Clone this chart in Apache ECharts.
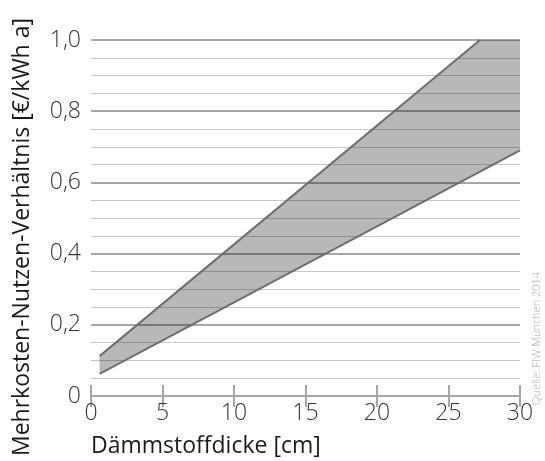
<!DOCTYPE html>
<html><head><meta charset="utf-8">
<script src="https://cdn.jsdelivr.net/npm/echarts@6/dist/echarts.min.js"></script>
<style>html,body{margin:0;padding:0;background:#fff}#c{width:545px;height:461px}</style>
</head><body><div id="c"></div>
<script>
const xTicks = [0, 5, 10, 15, 20, 25, 30];
const yTickLabels = ['0', '0,2', '0,4', '0,6', '0,8', '1,0'];
const lowerLine = [[0.6, 0.062], [30, 0.69]];
const upperLine = [[0.6, 0.112], [27.2, 1.0]];
const bandPolygon = [[0.6, 0.062], [30, 0.69], [30, 1.0], [27.2, 1.0], [0.6, 0.112]];
const xTitle = 'Dämmstoffdicke [cm]';
const yTitle = 'Mehrkosten-Nutzen-Verhältnis [€/kWh a]';
const sourceText = 'Quelle: FIW München 2014';

const FONT = 'Open Sans';
const chart = echarts.init(document.getElementById('c'));
const axisGray = '#a6a6a6';
chart.setOption({
  animation: false,
  grid: {left: 91, right: 25, top: 40, bottom: 65},
  xAxis: [{
    type: 'value', min: 0, max: 30, interval: 5, position: 'bottom',
    axisLine: {show: true, onZero: false, lineStyle: {color: axisGray, width: 2}},
    axisTick: {show: true, inside: true, length: 11, lineStyle: {color: axisGray, width: 2}},
    axisLabel: {color: '#333', fontFamily: FONT, fontWeight: 300, fontSize: 23, margin: 6},
    splitLine: {show: false}
  }, {
    type: 'value', min: 0, max: 30, interval: 5, position: 'top',
    axisLine: {show: true, lineStyle: {color: axisGray, width: 2}},
    axisTick: {show: true, inside: true, length: 11, lineStyle: {color: axisGray, width: 2}},
    axisLabel: {show: false},
    splitLine: {show: false}
  }],
  yAxis: {
    type: 'value', min: 0, max: 1, interval: 0.2,
    axisLine: {show: false}, axisTick: {show: false},
    axisLabel: {color: '#333', fontFamily: FONT, fontWeight: 300, fontSize: 23, margin: 10,
      formatter: (v) => yTickLabels[Math.round(v / 0.2)]},
    splitLine: {show: true, lineStyle: {color: '#a6a6a6', width: 2}},
    minorTick: {show: false, splitNumber: 4},
    minorSplitLine: {show: true, lineStyle: {color: '#c6c6c6', width: 1}}
  },
  graphic: [
    {type: 'text', left: 91, top: 435, style: {text: xTitle, fill: '#1a1a1a', font: '400 23px "' + FONT + '"'}},
    {type: 'text', x: 22, y: 237, rotation: Math.PI / 2,
      style: {text: yTitle, fill: '#1a1a1a', font: '400 23px "' + FONT + '"', align: 'center', verticalAlign: 'middle'}},
    {type: 'text', x: 537, y: 405, rotation: Math.PI / 2,
      style: {text: sourceText, fill: '#ababab', font: '300 11px "' + FONT + '"', align: 'left', verticalAlign: 'middle'}}
  ],
  series: [{
    type: 'custom', z: 3,
    data: [0],
    renderItem: (params, api) => ({
      type: 'polygon',
      shape: {points: bandPolygon.map(p => api.coord(p))},
      style: {fill: 'rgba(0,0,0,0.28)'}
    })
  }, {
    type: 'line', z: 4, data: lowerLine, symbol: 'none',
    lineStyle: {color: '#6e6e6e', width: 2}
  }, {
    type: 'line', z: 4, data: upperLine, symbol: 'none',
    lineStyle: {color: '#6e6e6e', width: 2}
  }]
});
</script></body></html>
